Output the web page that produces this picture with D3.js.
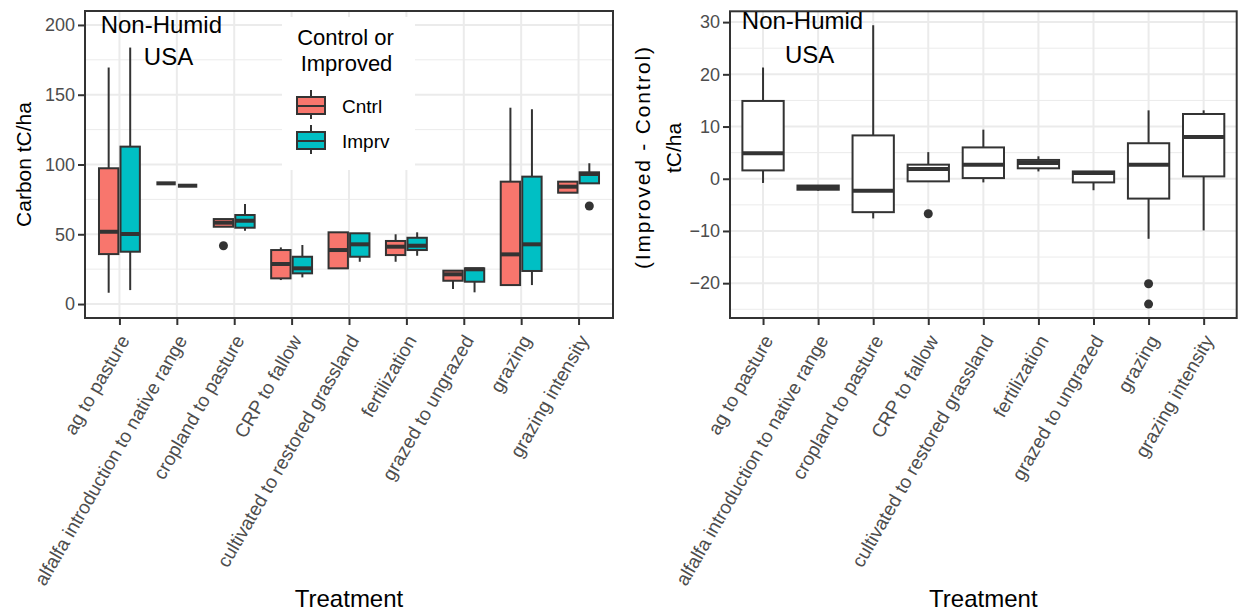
<!DOCTYPE html>
<html>
<head>
<meta charset="utf-8">
<script src="https://cdn.jsdelivr.net/npm/d3@7"></script>
<style>
  html, body { margin: 0; padding: 0; background: #ffffff; }
  svg { display: block; font-family: "Liberation Sans", Arial, sans-serif; }
</style>
</head>
<body>
<svg id="chart" width="1238" height="611"></svg>
<script>
// Treatment categories shared by both panels
const categories = [
  "ag to pasture",
  "alfalfa introduction to native range",
  "cropland to pasture",
  "CRP to fallow",
  "cultivated to restored grassland",
  "fertilization",
  "grazed to ungrazed",
  "grazing",
  "grazing intensity"
];

const groups = ["Cntrl", "Imprv"];
const groupColors = ["#F8766D", "#00BFC4"];

// Box statistics per treatment: [lower whisker, Q1, median, Q3, upper whisker] (tC/ha)
const cntrlStats = [
  [8.1, 35.8, 51.8, 97.3, 169.5],
  [86.5, 86.5, 86.5, 86.5, 86.5],
  [55.4, 55.4, 58.3, 60.9, 60.9],
  [17.2, 18.4, 28.7, 38.7, 40.6],
  [25.6, 25.6, 38.7, 51.4, 51.4],
  [30.3, 35.1, 41.1, 45.2, 50.0],
  [10.8, 16.7, 21.3, 23.9, 23.9],
  [13.6, 13.6, 35.6, 87.7, 140.7],
  [79.8, 79.8, 84.1, 87.7, 87.7]
];
const imprvStats = [
  [10.0, 37.5, 50.2, 112.8, 183.8],
  [84.8, 84.8, 84.8, 84.8, 84.8],
  [52.5, 54.7, 59.7, 63.8, 71.7],
  [19.1, 22.0, 25.6, 33.9, 42.3],
  [30.3, 33.9, 42.8, 50.7, 50.7],
  [34.6, 38.7, 41.8, 47.5, 51.4],
  [8.4, 16.0, 24.9, 25.6, 25.6],
  [13.6, 23.7, 42.8, 91.3, 139.6],
  [86.5, 86.5, 93.2, 94.4, 100.9]
];
// Outliers: [category index, value]
const cntrlOutliers = [[2, 41.8]];
const imprvOutliers = [[8, 70.3]];

// Improved minus control differences (tC/ha)
const diffStats = [
  [-0.8, 1.6, 4.9, 14.9, 21.3],
  [-2.3, -2.1, -1.7, -1.3, -1.3],
  [-7.6, -6.4, -2.3, 8.3, 29.4],
  [-0.5, -0.5, 1.85, 2.7, 5.1],
  [-0.7, 0.13, 2.7, 6.0, 9.4],
  [1.4, 2.0, 3.0, 3.6, 4.3],
  [-2.2, -0.7, 1.1, 1.4, 1.4],
  [-11.5, -3.8, 2.7, 6.8, 13.1],
  [-9.9, 0.45, 8.0, 12.4, 13.1]
];
const diffOutliers = [[3, -6.7], [7, -20.1], [7, -24.0]];

const leftTicks = [0, 50, 100, 150, 200];
const leftMinor = [25, 75, 125, 175];
const rightTicks = [-20, -10, 0, 10, 20, 30];
const rightMinor = [-25, -15, -5, 5, 15, 25];

// Panel annotations: [category position (0-based, fractional), value, text]
const leftNotes = [[0.73, 200, "Non-Humid"], [0.855, 177, "USA"]];
const rightNotes = [[0.717, 30.3, "Non-Humid"], [0.845, 23.8, "USA"]];

const svg = d3.select("#chart");
const INK = "#333333";
const GRID = "#EBEBEB";
const TICKTXT = "#4D4D4D";

function panel(opts) {
  const {x0, x1, y0, y1, domain, ticks, minor} = opts;
  const g = svg.append("g");
  const x = d3.scalePoint().domain(categories).range([x0, x1]).padding(0.6);
  const y = d3.scaleLinear().domain(domain).range([y1, y0]);

  // background grid
  g.selectAll(".minor").data(minor).join("line")
    .attr("x1", x0).attr("x2", x1)
    .attr("y1", d => y(d)).attr("y2", d => y(d))
    .attr("stroke", GRID).attr("stroke-width", 1);
  g.selectAll(".major").data(ticks).join("line")
    .attr("x1", x0).attr("x2", x1)
    .attr("y1", d => y(d)).attr("y2", d => y(d))
    .attr("stroke", GRID).attr("stroke-width", 2);
  g.selectAll(".vmajor").data(categories).join("line")
    .attr("x1", d => x(d)).attr("x2", d => x(d))
    .attr("y1", y0).attr("y2", y1)
    .attr("stroke", GRID).attr("stroke-width", 2);

  // y axis
  const yAxis = d3.axisLeft(y).tickValues(ticks).tickSize(7).tickPadding(3).tickFormat(d3.format("d"));
  const ya = g.append("g").attr("transform", `translate(${x0},0)`).call(yAxis);
  ya.select(".domain").remove();
  ya.selectAll(".tick line").attr("stroke", INK).attr("stroke-width", 2);
  ya.selectAll(".tick text").attr("fill", TICKTXT).attr("font-size", 18)
    .attr("font-family", "Liberation Sans, Arial, sans-serif");

  // x axis
  const xAxis = d3.axisBottom(x).tickSize(7).tickFormat("");
  const xa = g.append("g").attr("transform", `translate(0,${y1})`).call(xAxis);
  xa.select(".domain").remove();
  xa.selectAll(".tick line").attr("stroke", INK).attr("stroke-width", 2);

  g.selectAll(".xlab").data(categories).join("text")
    .attr("transform", d => `translate(${x(d) - 1.5},${y1 + 15}) rotate(-60)`)
    .attr("text-anchor", "end")
    .attr("dy", "0.75em")
    .attr("font-size", 19)
    .attr("fill", TICKTXT)
    .text(d => d);

  return {g, x, y};
}

function drawBox(g, cx, w, s, y, fill) {
  const [lo, q1, med, q3, hi] = s;
  g.append("line").attr("x1", cx).attr("x2", cx).attr("y1", y(hi)).attr("y2", y(q3))
    .attr("stroke", INK).attr("stroke-width", 2);
  g.append("line").attr("x1", cx).attr("x2", cx).attr("y1", y(q1)).attr("y2", y(lo))
    .attr("stroke", INK).attr("stroke-width", 2);
  g.append("rect").attr("x", cx - w / 2).attr("width", w)
    .attr("y", y(q3)).attr("height", Math.max(0, y(q1) - y(q3)))
    .attr("fill", fill).attr("stroke", INK).attr("stroke-width", 2);
  g.append("line").attr("x1", cx - w / 2).attr("x2", cx + w / 2)
    .attr("y1", y(med)).attr("y2", y(med))
    .attr("stroke", INK).attr("stroke-width", 4);
}

function drawOutlier(g, cx, v, y) {
  g.append("circle").attr("cx", cx).attr("cy", y(v)).attr("r", 4.5).attr("fill", INK);
}

function frame(g, x0, x1, y0, y1) {
  g.append("rect").attr("x", x0).attr("y", y0).attr("width", x1 - x0).attr("height", y1 - y0)
    .attr("fill", "none").attr("stroke", INK).attr("stroke-width", 2);
}

// ---- Left panel: carbon stocks by control/improved ----
const L = {x0: 85, x1: 613, y0: 11, y1: 318};
const left = panel({...L, domain: [-10, 210], ticks: leftTicks, minor: leftMinor});
{
  const step = left.x.step();
  const dodge = step * 0.75;
  const slot = dodge / 2;
  const bw = slot * 0.9;
  [cntrlStats, imprvStats].forEach((stats, gi) => {
    const off = -dodge / 2 + slot * (gi + 0.5);
    stats.forEach((s, i) => drawBox(left.g, left.x(categories[i]) + off, bw, s, left.y, groupColors[gi]));
  });
  [cntrlOutliers, imprvOutliers].forEach((outs, gi) => {
    const off = -dodge / 2 + slot * (gi + 0.5);
    outs.forEach(([i, v]) => drawOutlier(left.g, left.x(categories[i]) + off, v, left.y));
  });
  frame(left.g, L.x0, L.x1, L.y0, L.y1);

  leftNotes.forEach(([p, v, t]) => {
    left.g.append("text")
      .attr("x", left.x(categories[0]) + p * step).attr("y", left.y(v))
      .attr("dy", "0.35em").attr("text-anchor", "middle")
      .attr("font-size", 24).attr("fill", "#000").text(t);
  });

  // legend
  const lg = svg.append("g");
  lg.append("rect").attr("x", 282).attr("y", 17).attr("width", 133).attr("height", 153).attr("fill", "#fff");
  lg.append("text").attr("x", 345.5).attr("y", 45).attr("text-anchor", "middle")
    .attr("font-size", 22).text("Control or");
  lg.append("text").attr("x", 346.5).attr("y", 71).attr("text-anchor", "middle")
    .attr("font-size", 22).text("Improved");
  groups.forEach((name, gi) => {
    const cy = 106 + gi * 35;
    lg.append("line").attr("x1", 311).attr("x2", 311).attr("y1", cy - 16).attr("y2", cy + 13)
      .attr("stroke", INK).attr("stroke-width", 2);
    lg.append("rect").attr("x", 297).attr("y", cy - 9).attr("width", 28).attr("height", 17)
      .attr("fill", groupColors[gi]).attr("stroke", INK).attr("stroke-width", 2);
    lg.append("line").attr("x1", 297).attr("x2", 325).attr("y1", cy).attr("y2", cy)
      .attr("stroke", INK).attr("stroke-width", 2);
    lg.append("text").attr("x", 342).attr("y", cy).attr("dy", "0.35em")
      .attr("font-size", 19).text(name);
  });

  svg.append("text")
    .attr("transform", `translate(31,${(L.y0 + L.y1) / 2}) rotate(-90)`)
    .attr("text-anchor", "middle").attr("font-size", 21).text("Carbon tC/ha");
  svg.append("text").attr("x", (L.x0 + L.x1) / 2).attr("y", 607)
    .attr("text-anchor", "middle").attr("font-size", 24).text("Treatment");
}

// ---- Right panel: improved minus control ----
const R = {x0: 730, x1: 1236.7, y0: 11.3, y1: 318};
const right = panel({...R, domain: [-26.67, 32.07], ticks: rightTicks, minor: rightMinor});
{
  const step = right.x.step();
  const bw = step * 0.75;
  diffStats.forEach((s, i) => drawBox(right.g, right.x(categories[i]), bw, s, right.y, "#ffffff"));
  diffOutliers.forEach(([i, v]) => drawOutlier(right.g, right.x(categories[i]), v, right.y));
  frame(right.g, R.x0, R.x1, R.y0, R.y1);

  rightNotes.forEach(([p, v, t]) => {
    right.g.append("text")
      .attr("x", right.x(categories[0]) + p * step).attr("y", right.y(v))
      .attr("dy", "0.35em").attr("text-anchor", "middle")
      .attr("font-size", 24).attr("fill", "#000").text(t);
  });

  svg.append("text")
    .attr("transform", `translate(650,158) rotate(-90)`)
    .attr("text-anchor", "middle").attr("font-size", 21)
    .attr("textLength", 222).attr("lengthAdjust", "spacing")
    .text("(Improved - Control)");
  svg.append("text")
    .attr("transform", `translate(681,148) rotate(-90)`)
    .attr("text-anchor", "middle").attr("font-size", 21)
    .text("tC/ha");
  svg.append("text").attr("x", (R.x0 + R.x1) / 2).attr("y", 607)
    .attr("text-anchor", "middle").attr("font-size", 24).text("Treatment");
}
</script>
</body>
</html>
